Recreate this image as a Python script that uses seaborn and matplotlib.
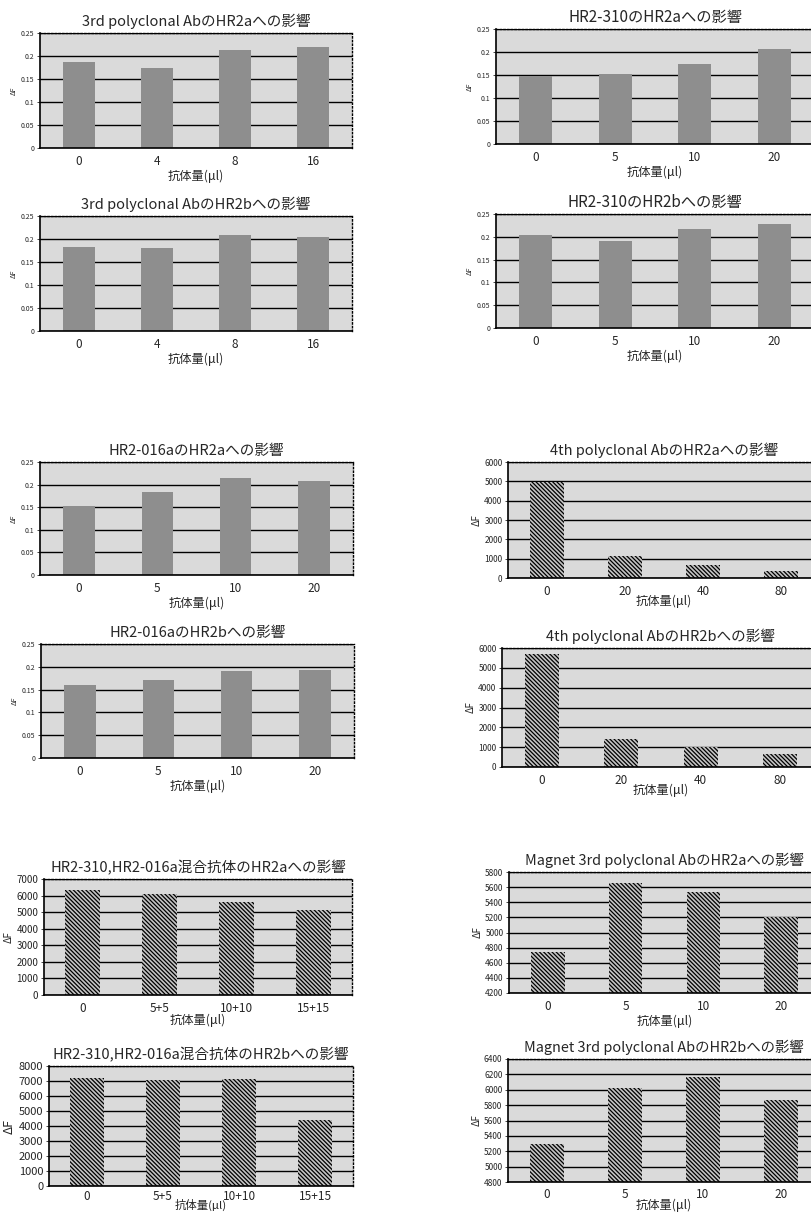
import matplotlib
matplotlib.use('Agg')
import matplotlib.pyplot as plt
import seaborn as sns
import pandas as pd

sns.set_theme(style='white')
plt.rcParams['font.family'] = ['Noto Sans CJK JP', 'DejaVu Sans']
plt.rcParams['hatch.linewidth'] = 0.9
plt.rcParams['hatch.color'] = 'black'

# ---------------- data ----------------
doses_3rd = ['0', '4', '8', '16']
doses_std = ['0', '5', '10', '20']
doses_4th = ['0', '20', '40', '80']
doses_mix = ['0', '5+5', '10+10', '15+15']

third_hr2a = [0.186, 0.173, 0.212, 0.220]
third_hr2b = [0.183, 0.180, 0.209, 0.205]
hr2_310_hr2a = [0.148, 0.152, 0.175, 0.207]
hr2_310_hr2b = [0.205, 0.190, 0.218, 0.228]
hr2_016a_hr2a = [0.152, 0.183, 0.215, 0.208]
hr2_016a_hr2b = [0.160, 0.171, 0.190, 0.193]
fourth_hr2a = [4950, 1150, 690, 360]
fourth_hr2b = [5720, 1400, 1030, 660]
mix_hr2a = [6340, 6080, 5590, 5130]
mix_hr2b = [7220, 7090, 7160, 4420]
magnet_hr2a = [4740, 5650, 5540, 5210]
magnet_hr2b = [5290, 6020, 6170, 5865]

ticks_small = [0, 0.05, 0.1, 0.15, 0.2, 0.25]
ticklabels_small = ['0', '0.05', '0.1', '0.15', '0.2', '0.25']

xlabel_text = '抗体量(μl)'

W, H = 811, 1218
fig = plt.figure(figsize=(W / 100, H / 100), dpi=100)
fig.patch.set_facecolor('white')


def make_ax(x0, y0, x1, y1):
    return fig.add_axes([x0 / W, 1 - y1 / H, (x1 - x0) / W, (y1 - y0) / H])


def draw(box, cats, vals, title, ylim, yticks, yticklabels, kind,
         title_fs=10.5, ytick_fs=5, ylab_fs=5, bar_w=0.42,
         xpad=5, xlabpad=1, xlab_fs=8.8):
    ax = make_ax(*box)
    df = pd.DataFrame({'dose': cats, 'val': vals})
    if kind == 'dots':
        sns.barplot(data=df, x='dose', y='val', order=cats, ax=ax,
                    color='#8e8e8e', saturation=1, width=bar_w,
                    linewidth=0, errorbar=None)
    else:
        sns.barplot(data=df, x='dose', y='val', order=cats, ax=ax,
                    color='#c4c4c4', saturation=1, width=bar_w,
                    edgecolor='black', linewidth=0, errorbar=None)
        for p in ax.patches:
            p.set_hatch('\\' * 8)
    ax.set_facecolor('#dadada')
    ax.set_xlim(-0.5, len(cats) - 0.5)
    ax.set_ylim(*ylim)
    ax.set_yticks(yticks)
    ax.set_yticklabels(yticklabels)
    ax.yaxis.grid(True, color='black', linewidth=1.0)
    ax.xaxis.grid(False)
    ax.set_axisbelow(True)
    ax.tick_params(axis='y', length=2, width=0.6, labelsize=ytick_fs, pad=2,
                   left=True)
    ax.tick_params(axis='x', length=0, labelsize=8.5, pad=xpad)
    ax.set_title(title, fontsize=title_fs, pad=5)
    ax.set_xlabel(xlabel_text, fontsize=xlab_fs, labelpad=xlabpad)
    ax.set_ylabel('ΔF', fontsize=ylab_fs, labelpad=2)
    for s in ['left', 'bottom']:
        ax.spines[s].set_color('black')
        ax.spines[s].set_linewidth(1.2)
    for s in ['top', 'right']:
        ax.spines[s].set_color('black')
        ax.spines[s].set_linewidth(1.0)
        ax.spines[s].set_linestyle(':')
    return ax


# ---------------- left column ----------------
draw((40, 33, 352, 148), doses_3rd, third_hr2a, '3rd polyclonal AbのHR2aへの影響',
     (0, 0.25), ticks_small, ticklabels_small, 'dots', bar_w=0.4)
draw((40, 216, 352, 331), doses_3rd, third_hr2b, '3rd polyclonal AbのHR2bへの影響',
     (0, 0.25), ticks_small, ticklabels_small, 'dots', bar_w=0.4)
draw((40, 462, 353, 575), doses_std, hr2_016a_hr2a, 'HR2-016aのHR2aへの影響',
     (0, 0.25), ticks_small, ticklabels_small, 'dots', bar_w=0.4)
draw((41, 644, 354, 758), doses_std, hr2_016a_hr2b, 'HR2-016aのHR2bへの影響',
     (0, 0.25), ticks_small, ticklabels_small, 'dots', bar_w=0.4)
yt = list(range(0, 7001, 1000))
draw((44, 879, 352, 995), doses_mix, mix_hr2a, 'HR2-310,HR2-016a混合抗体のHR2aへの影響',
     (0, 7000), yt, [str(v) for v in yt], 'hatch', title_fs=10.5,
     ytick_fs=7, ylab_fs=7, bar_w=0.45, xlabpad=-1)
yt = list(range(0, 8001, 1000))
draw((49, 1066, 353, 1186), doses_mix, mix_hr2b, 'HR2-310,HR2-016a混合抗体のHR2bへの影響',
     (0, 8000), yt, [str(v) for v in yt], 'hatch', title_fs=10.5,
     ytick_fs=8, ylab_fs=9, bar_w=0.45, xpad=3, xlabpad=-3, xlab_fs=8.2)

# ---------------- right column ----------------
draw((496, 29, 814, 144), doses_std, hr2_310_hr2a, 'HR2-310のHR2aへの影響',
     (0, 0.25), ticks_small, ticklabels_small, 'dots', bar_w=0.42, title_fs=11)
draw((496, 214, 814, 328), doses_std, hr2_310_hr2b, 'HR2-310のHR2bへの影響',
     (0, 0.25), ticks_small, ticklabels_small, 'dots', bar_w=0.42, title_fs=11)
yt = list(range(0, 6001, 1000))
draw((508, 462, 820, 578), doses_4th, fourth_hr2a, '4th polyclonal AbのHR2aへの影響',
     (0, 6000), yt, [str(v) for v in yt], 'hatch', title_fs=10.5,
     ytick_fs=6, ylab_fs=7, bar_w=0.43, xlabpad=-2)
draw((502, 648, 820, 767), doses_4th, fourth_hr2b, '4th polyclonal AbのHR2bへの影響',
     (0, 6000), yt, [str(v) for v in yt], 'hatch', title_fs=10.5,
     ytick_fs=6, ylab_fs=7, bar_w=0.43, xlabpad=-2)
yt = list(range(4200, 5801, 200))
draw((509, 872, 820, 993), doses_std, magnet_hr2a, 'Magnet 3rd polyclonal AbのHR2aへの影響',
     (4200, 5800), yt, [str(v) for v in yt], 'hatch', title_fs=10.4,
     ytick_fs=6, ylab_fs=7, bar_w=0.43)
yt = list(range(4800, 6401, 200))
draw((508, 1059, 820, 1182), doses_std, magnet_hr2b, 'Magnet 3rd polyclonal AbのHR2bへの影響',
     (4800, 6400), yt, [str(v) for v in yt], 'hatch', title_fs=10.4,
     ytick_fs=6, ylab_fs=7, bar_w=0.43, xpad=4, xlabpad=-1)

fig.savefig('out.png', dpi=100, facecolor='white')
